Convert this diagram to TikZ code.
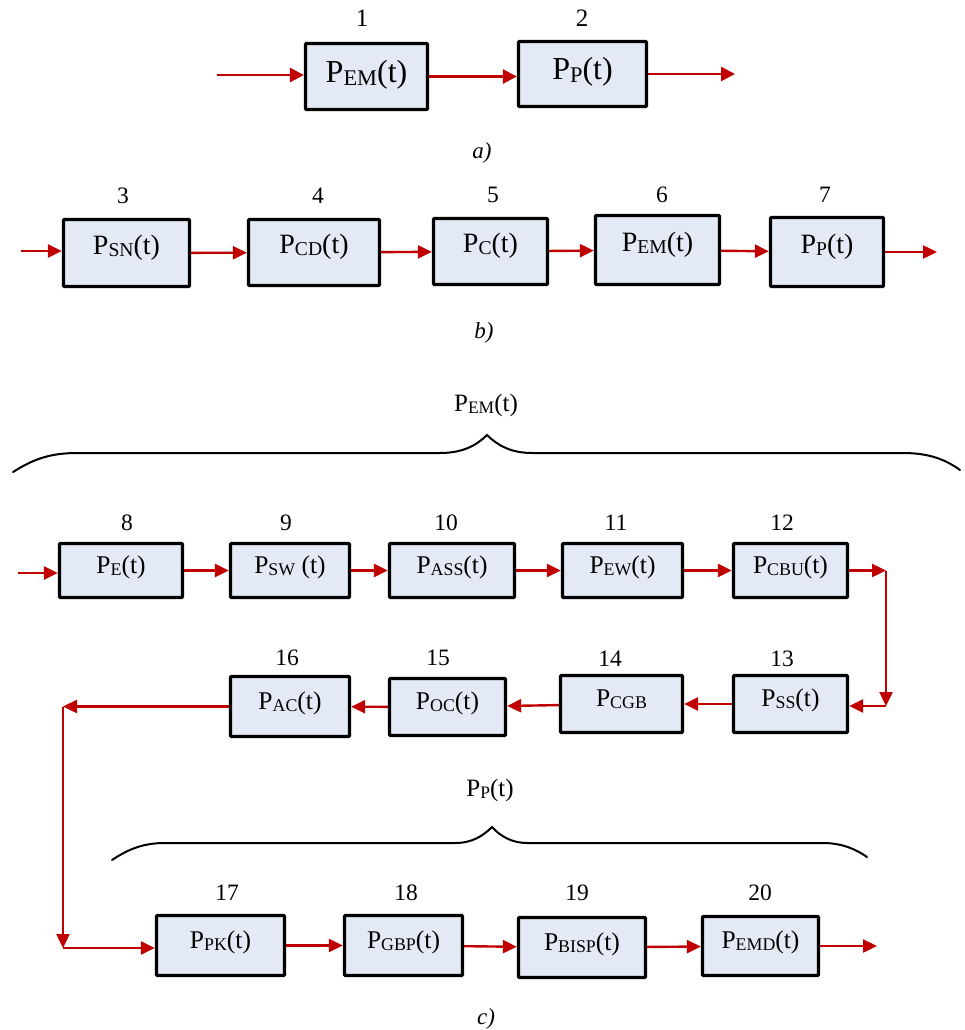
\documentclass[tikz,border=0pt]{standalone}
\usepackage{fontspec}
\setmainfont{Liberation Serif}
\usepackage{graphicx}
\usetikzlibrary{arrows.meta}
\definecolor{boxfill}{RGB}{227,234,246}
\definecolor{arrred}{RGB}{192,0,0}
\newcommand{\sbs}[1]{\raisebox{-0.08em}{\scalebox{0.7}{#1}}}
\begin{document}
\begin{tikzpicture}[x=1pt,y=-1pt,
 blk/.style={draw=black,line width=3.3pt,fill=boxfill,inner sep=0pt,rounded corners=1pt},
 fa/.style={blk,font=\fontsize{32}{36}\selectfont,text height=22pt,text depth=10pt},
 fb/.style={blk,font=\fontsize{28}{32}\selectfont,text height=19pt,text depth=17pt},
 fc/.style={blk,font=\fontsize{25.5}{29}\selectfont,text height=18pt,text depth=13pt},
 num/.style={inner sep=0pt,font=\fontsize{23.5}{26}\selectfont},
 numa/.style={inner sep=0pt,font=\fontsize{25}{28}\selectfont},
 capt/.style={inner sep=0pt,font=\fontsize{23}{26}\selectfont\itshape},
 blab/.style={inner sep=0pt,font=\fontsize{25}{29}\selectfont},
 arr/.style={draw=arrred,line width=2.4pt,-{Triangle[length=14pt,width=13pt]}},
 arra/.style={draw=arrred,line width=2.8pt,-{Triangle[length=14pt,width=14pt]}},
 brace/.style={draw=black,line width=2pt,line cap=round},
]
\useasboundingbox (0,0) rectangle (964,1030);
\fill[white] (0,0) rectangle (964,1030);

% ---------- a) ----------
\node[fa,minimum width=122pt,minimum height=66pt] (a1) at (366.5,76.5) {P\sbs{EM}(t)};
\node[fa,minimum width=128pt,minimum height=65pt] (a2) at (582.5,74) {P\sbs{P}(t)};
\node[numa] (l1) at (362,18) {1};
\node[numa] (l2) at (582,18) {2};
\coordinate (ain) at (217,75);
\coordinate (aout) at (735,72);
\draw[arra] (ain) -- (ain -| a1.west);
\draw[arra] (a1.east) -- (a1.east -| a2.west);
\draw[arra] (a2.east) -- (a2.east -| aout);
\node[capt] (capa) at (482,153) {a)};

% ---------- b) ----------
\node[fb,minimum width=126pt,minimum height=67pt] (b3) at (126.5,253) {P\sbs{SN}(t)};
\node[fb,minimum width=131pt,minimum height=66pt] (b4) at (314,252.5) {P\sbs{CD}(t)};
\node[fb,minimum width=114pt,minimum height=66pt] (b5) at (490.5,251.5) {P\sbs{C}(t)};
\node[fb,minimum width=124pt,minimum height=69pt] (b6) at (657.5,250) {P\sbs{EM}(t)};
\node[fb,minimum width=113pt,minimum height=69pt] (b7) at (827,252) {P\sbs{P}(t)};
\node[num] (l3) at (123,196) {3};
\node[num] (l4) at (318,196) {4};
\node[num] (l5) at (493,195) {5};
\node[num] (l6) at (662,195) {6};
\node[num] (l7) at (825,195) {7};
\coordinate (bin) at (21,251);
\coordinate (bout) at (937,245);
\draw[arr] (bin) -- (bin -| b3.west);
\draw[arr] (b3) -- (b4);
\draw[arr] (b4) -- (b5);
\draw[arr] (b5) -- (b6);
\draw[arr] (b6) -- (b7);
\draw[arr] (b7.east) -- (b7.east -| bout);
\node[capt] (capb) at (484,333) {b)};

% ---------- c) ----------
\node[blab] (tem) at (486,405) {P\sbs{EM}(t)};
\draw[brace] (13,472) .. controls (35,458) and (52,453) .. (78,453) -- (440,453)
  .. controls (462,453) and (476,446) .. (487,435)
  .. controls (498,446) and (512,453) .. (532,453) -- (903,453)
  .. controls (930,453) and (946,460) .. (960,470);

\node[fc,minimum width=123pt,minimum height=54pt] (c8) at (121,570.5) {P\sbs{E}(t)};
\node[fc,minimum width=119pt,minimum height=54pt] (c9) at (290,570.5) {P\sbs{SW} (t)};
\node[fc,minimum width=125pt,minimum height=54pt] (c10) at (452,570.5) {P\sbs{ASS}(t)};
\node[fc,minimum width=120pt,minimum height=54pt] (c11) at (622.5,570.5) {P\sbs{EW}(t)};
\node[fc,minimum width=114pt,minimum height=54pt] (c12) at (790.5,570.5) {P\sbs{CBU}(t)};
\node[num] (l8) at (127,523) {8};
\node[num] (l9) at (286,523) {9};
\node[num] (l10) at (446,523) {10};
\node[num] (l11) at (616,523) {11};
\node[num] (l12) at (782,523) {12};

\node[fc,minimum width=114pt,minimum height=57pt] (c13) at (790.5,704) {P\sbs{SS}(t)};
\node[fc,minimum width=122pt,minimum height=57pt] (c14) at (621.5,704) {P\sbs{CGB}};
\node[fc,minimum width=116pt,minimum height=57pt] (c15) at (447.5,707) {P\sbs{OC}(t)};
\node[fc,minimum width=119pt,minimum height=60pt] (c16) at (290,706.5) {P\sbs{AC}(t)};
\node[num] (l13) at (782,659) {13};
\node[num] (l14) at (610,659) {14};
\node[num] (l15) at (438,658) {15};
\node[num] (l16) at (287,658) {16};

\node[blab] (tp) at (490,790) {P\sbs{P}(t)};
\draw[brace] (112,860) .. controls (130,848) and (145,843) .. (165,843) -- (455,843)
  .. controls (472,843) and (483,836) .. (492,827)
  .. controls (500,836) and (512,843) .. (527,843) -- (823,843)
  .. controls (843,843) and (857,850) .. (867,857);

\node[fc,minimum width=128pt,minimum height=60pt] (c17) at (220.5,945.5) {P\sbs{PK}(t)};
\node[fc,minimum width=118pt,minimum height=60pt] (c18) at (403.5,945.5) {P\sbs{GBP}(t)};
\node[fc,minimum width=127pt,minimum height=60pt] (c19) at (582,947.5) {P\sbs{BISP}(t)};
\node[fc,minimum width=116pt,minimum height=59pt] (c20) at (760.5,946) {P\sbs{EMD}(t)};
\node[num] (l17) at (227,893) {17};
\node[num] (l18) at (406,893) {18};
\node[num] (l19) at (577,893) {19};
\node[num] (l20) at (760,893) {20};

\coordinate (cin) at (18,573);
\coordinate (k1) at (886,571);
\coordinate (k2) at (886,706);
\coordinate (k3) at (63,706.5);
\coordinate (k4) at (63,948);
\coordinate (cout) at (877,946);

\draw[arr] (cin) -- (cin -| c8.west);
\draw[arr] (c8) -- (c9);
\draw[arr] (c9) -- (c10);
\draw[arr] (c10) -- (c11);
\draw[arr] (c11) -- (c12);
\draw[arr] (c12.east) -- (c12.east -| k1);
\draw[arr] (k1) -- (k2);
\draw[arr] (k2) -- (k2 -| c13.east);
\draw[arr] (c13) -- (c14);
\draw[arr] (c14) -- (c15);
\draw[arr] (c15) -- (c16);
\draw[arr] (c16.west) -- (k3);
\draw[arr] (k3) -- (k4);
\draw[arr] (k4) -- (k4 -| c17.west);
\draw[arr] (c17) -- (c18);
\draw[arr] (c18) -- (c19);
\draw[arr] (c19) -- (c20);
\draw[arr] (c20.east) -- (c20.east -| cout);
\node[capt] (capc) at (486,1019) {c)};
\end{tikzpicture}
\end{document}
